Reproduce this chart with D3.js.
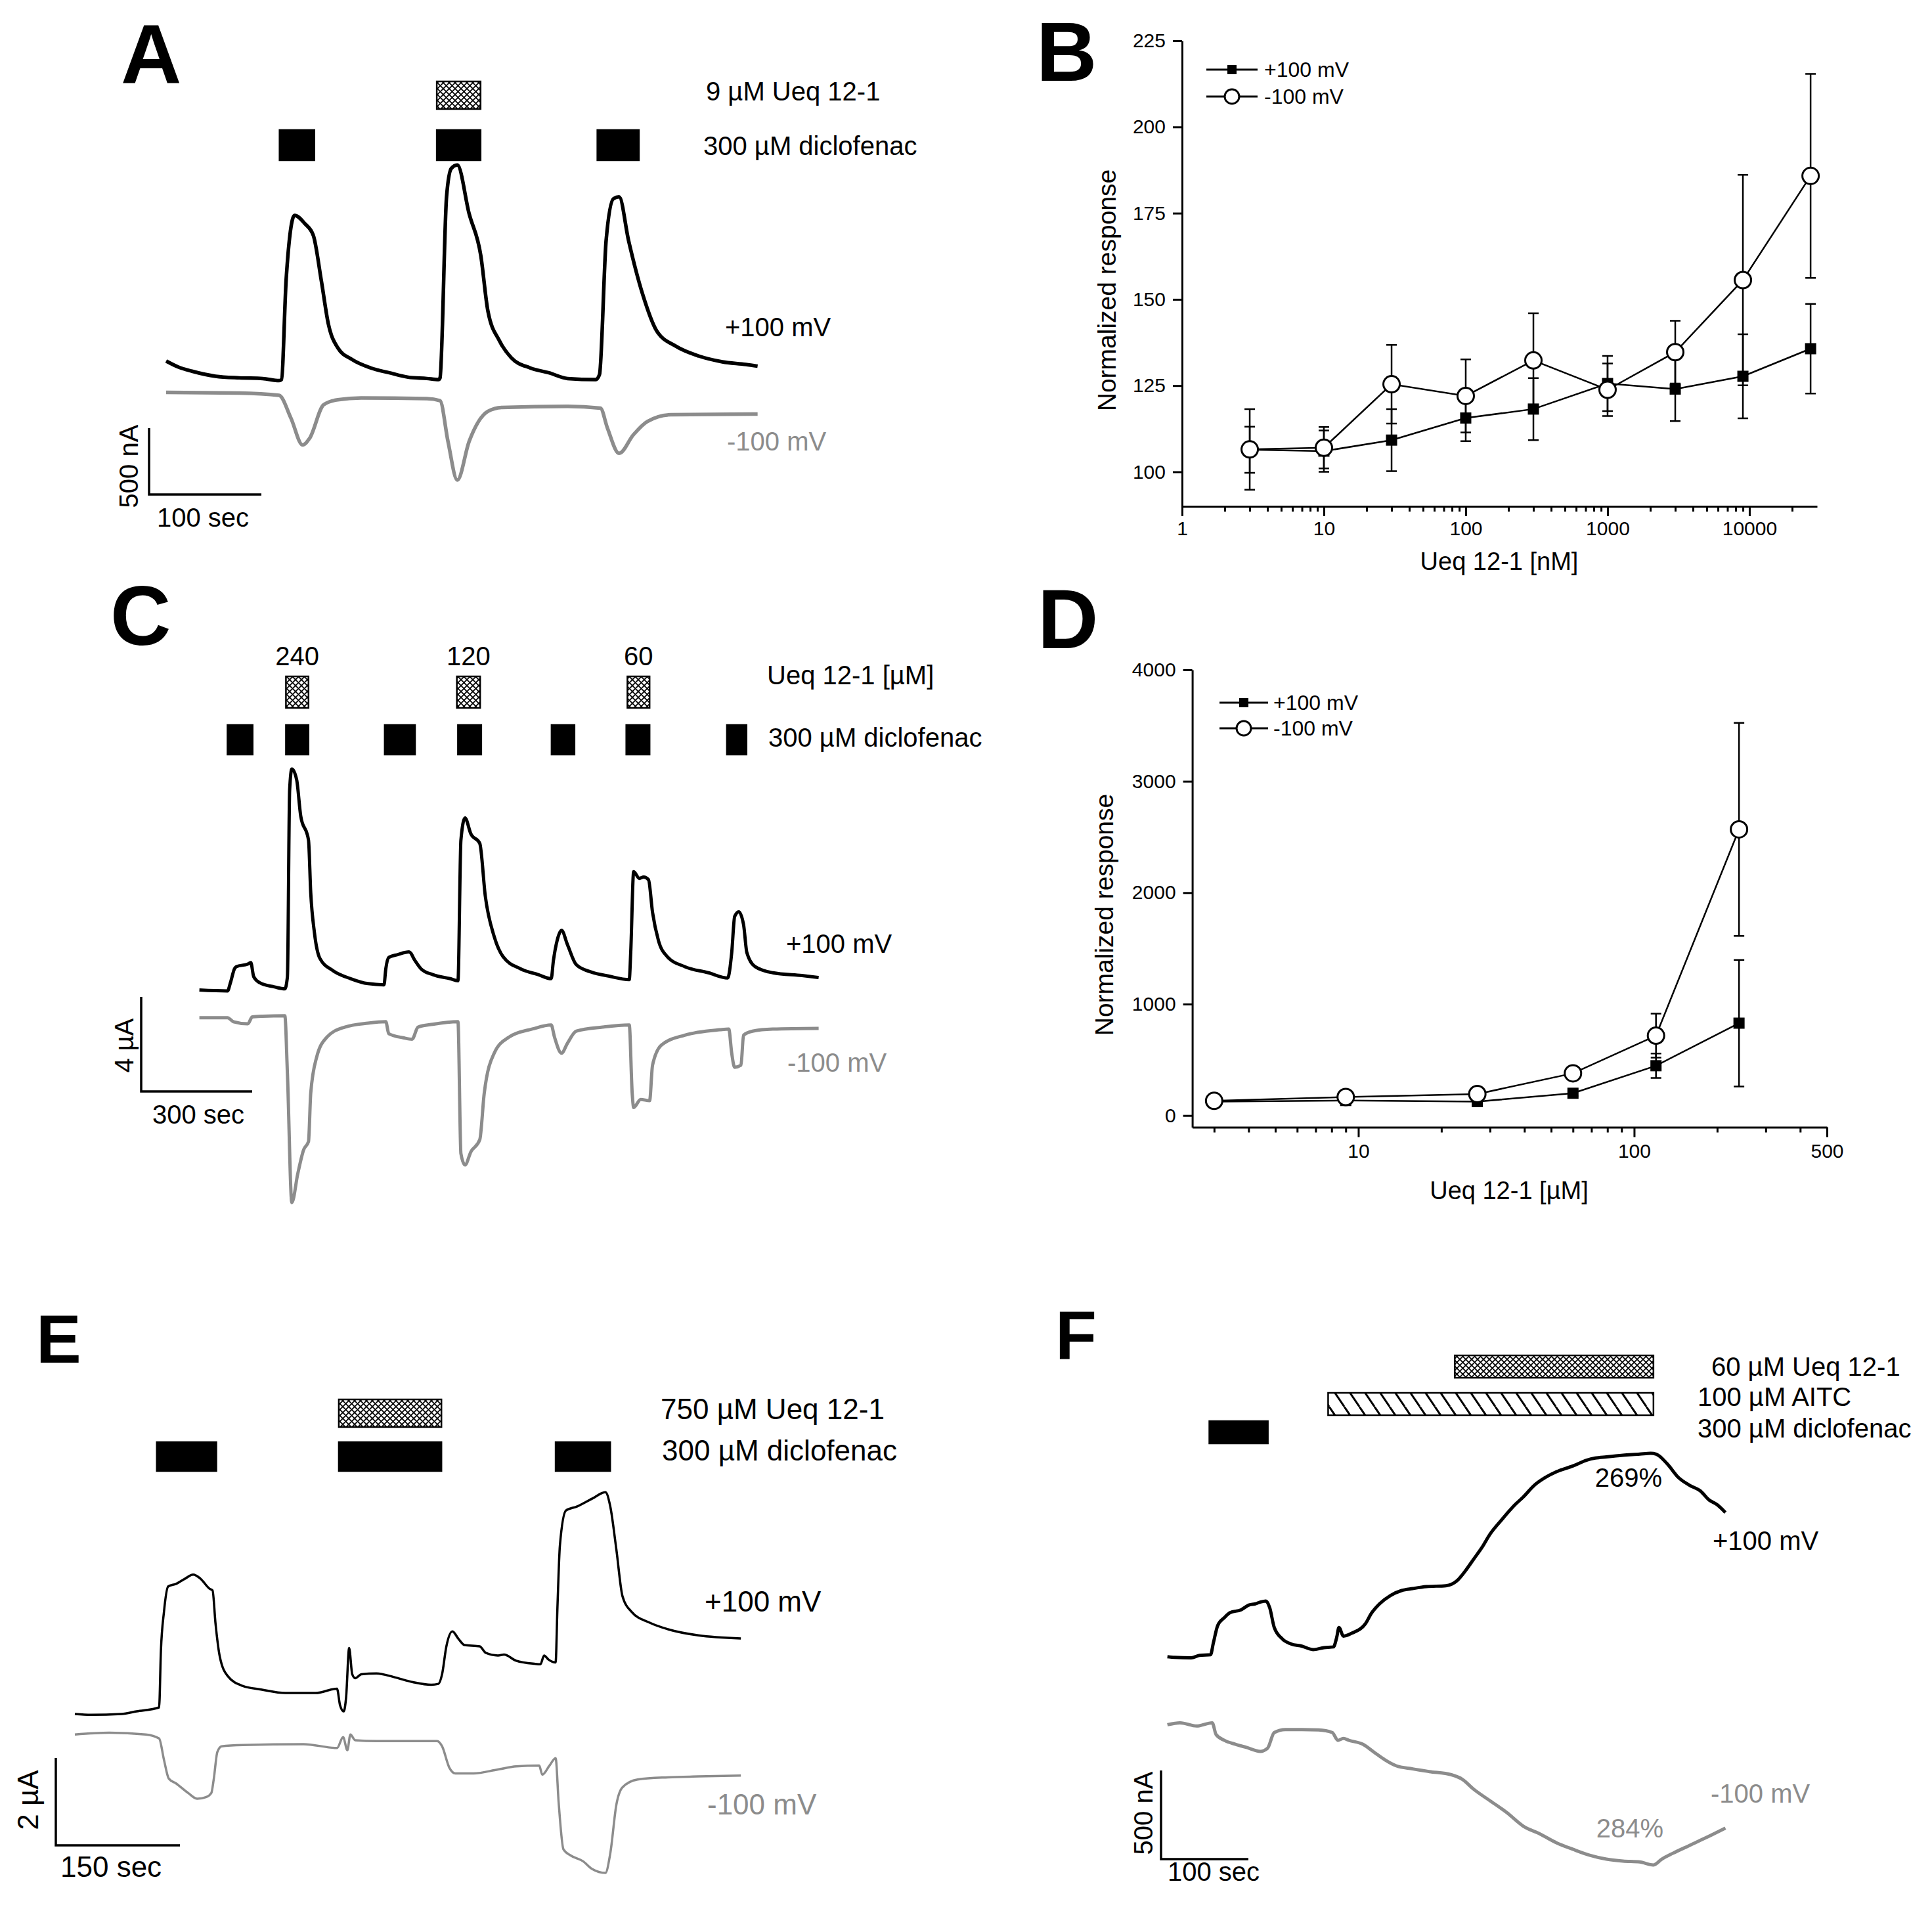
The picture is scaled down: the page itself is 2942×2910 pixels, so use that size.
<!DOCTYPE html>
<html>
<head>
<meta charset="utf-8">
<script src="https://cdn.jsdelivr.net/npm/d3@7"></script>
<style>
  body { margin: 0; background: #fff; }
</style>
</head>
<body>
<div id="fig"></div>
<script>
// ---- data ----
// A: currents in nA vs time in s
const aPlus = [[0,140],[11,94],[23,63],[44,25],[65,13],[86,8],[100.6,-8],[102.7,0],[106.9,758],[114.4,1238],[123.6,1175],[131.1,1086],[138.2,745],[144.5,417],[152.8,240],[165.4,152],[182.1,88],[198.8,51],[215.5,18],[232.2,8],[242.6,0],[243.9,13],[249.7,1377],[253.9,1591],[259.3,1617],[269.8,1251],[280.2,935],[286.5,518],[296.9,291],[307.4,164],[324.1,88],[340.8,51],[357.5,8],[382.6,0],[385.9,38],[391.8,1048],[398.4,1364],[403.4,1377],[411.8,1048],[424.3,644],[436.9,366],[453.6,253],[474.5,177],[495.3,134],[516.2,114],[526.7,101]];
const aMinus = [[0,-96],[65,-101],[100.6,-119],[111.1,-290],[121.5,-493],[127.8,-442],[140.3,-189],[152.8,-152],[173.7,-139],[232.2,-144],[243.9,-159],[251,-467],[259.3,-758],[269.8,-467],[286.5,-240],[299,-210],[357.5,-202],[386.7,-215],[393,-366],[403.4,-556],[416,-417],[428.5,-316],[449.4,-265],[526.7,-260]];
const aDiclo = [[101,132],[241,280],[384,421]];
const aUeq = [[241,280]];

// C: currents in uA vs time in s
const cPlus = [[0,0.04],[76,0],[84,0.35],[95,0.94],[100,1.03],[131,1.14],[139,1.2],[147,0.6],[163,0.35],[203,0.17],[231,0.09],[238,0.6],[244,8.5],[250,9.39],[263,8.93],[274,7.4],[295,6.38],[301,4.17],[311,2.47],[326,1.37],[361,0.86],[409,0.52],[456,0.31],[499,0.26],[504,0.94],[512,1.42],[536,1.54],[567,1.65],[583,1.28],[599,0.94],[631,0.69],[678,0.52],[699,0.43],[707,6.38],[718,7.32],[734,6.64],[758,6.24],[773,4.0],[797,2.3],[821,1.45],[868,0.94],[916,0.69],[951,0.52],[957,1.28],[967,2.13],[979,2.56],[995,1.96],[1019,1.11],[1059,0.8],[1106,0.63],[1162,0.48],[1166,1.62],[1174,5.05],[1189,4.76],[1201,4.82],[1214,4.71],[1225,3.32],[1241,2.13],[1265,1.45],[1312,1.03],[1376,0.77],[1428,0.55],[1439,1.62],[1447,3.15],[1458,3.35],[1471,2.81],[1480,1.62],[1502,1.03],[1550,0.77],[1629,0.65],[1674,0.57]];
const cMinus = [[0,-1.13],[76,-1.13],[92,-1.3],[131,-1.39],[143,-1.1],[171,-1.07],[231,-1.05],[238,-3.48],[250,-8.95],[266,-7.73],[282,-6.71],[295,-6.37],[301,-4.33],[317,-2.8],[345,-1.95],[393,-1.53],[456,-1.36],[504,-1.3],[512,-1.81],[551,-1.98],[575,-2.04],[591,-1.53],[631,-1.41],[699,-1.3],[707,-6.88],[718,-7.36],[734,-6.8],[758,-6.29],[770,-4.33],[797,-2.63],[837,-1.95],[900,-1.61],[951,-1.44],[960,-1.95],[979,-2.63],[995,-2.21],[1019,-1.7],[1090,-1.53],[1162,-1.44],[1170,-4.33],[1174,-4.93],[1193,-4.59],[1217,-4.64],[1225,-3.14],[1249,-2.29],[1312,-1.87],[1407,-1.64],[1431,-1.61],[1439,-2.63],[1447,-3.23],[1464,-3.14],[1471,-1.87],[1495,-1.7],[1550,-1.61],[1674,-1.58]];
const cDiclo = [[76,144],[234,295],[501,583],[699,762],[952,1014],[1154,1217],[1426,1479]];
const cUeq = [[234,295],[696,759],[1157,1217]];
const cUeqConc = ["240", "120", "60"];

// E: currents in uA vs time in s
const ePlus = [[0,0],[19.6,-0.02],[56.3,0],[74.6,0.06],[101.8,0.15],[104,1.45],[107.7,2.34],[112.8,2.92],[122.3,2.98],[133.3,3.1],[142.9,3.19],[151.7,3.1],[162.7,2.87],[166.4,2.83],[170,2.07],[175.2,1.31],[184.7,0.87],[203.1,0.64],[225.1,0.56],[254.4,0.48],[291.1,0.48],[316.8,0.58],[320.5,0.2],[324.9,0.06],[327.8,0.38],[331.5,1.51],[335.2,0.91],[338.8,0.82],[346.2,0.91],[364.5,0.93],[386.5,0.84],[408.5,0.73],[430.6,0.67],[439.4,0.69],[443.8,0.91],[448.9,1.54],[456.3,1.89],[463.6,1.72],[470.9,1.58],[489.3,1.55],[496.6,1.4],[511.3,1.34],[518.6,1.36],[533.3,1.22],[555.3,1.15],[562.7,1.14],[567.1,1.34],[572.2,1.25],[581,1.18],[583.2,2.43],[586.2,3.86],[593.5,4.66],[606.7,4.75],[625.1,4.93],[641.2,5.08],[647.1,4.75],[654.4,3.77],[661.8,2.7],[672.8,2.34],[694.8,2.09],[716.8,1.94],[753.5,1.8],[804.9,1.73]];
const eMinus = [[0,-0.47],[41.6,-0.43],[85.6,-0.47],[101.8,-0.56],[107.7,-1.05],[113.5,-1.48],[122.3,-1.59],[137,-1.81],[148,-1.94],[159,-1.9],[164.9,-1.81],[167.8,-1.5],[172.2,-0.87],[177.4,-0.74],[203.1,-0.71],[276.4,-0.69],[316.8,-0.78],[324.2,-0.53],[329.3,-0.83],[333,-0.47],[338.8,-0.6],[364.5,-0.62],[437.9,-0.62],[443.8,-0.74],[452.6,-1.23],[459.9,-1.36],[481.9,-1.36],[511.3,-1.27],[533.3,-1.2],[561.2,-1.18],[564.9,-1.39],[573.7,-1.18],[581,-1.01],[584.7,-2.03],[590.5,-3.1],[599.3,-3.24],[614,-3.37],[625.1,-3.55],[641.2,-3.64],[647.1,-3.19],[654.4,-2.08],[661.8,-1.68],[680.1,-1.5],[716.8,-1.45],[753.5,-1.43],[804.9,-1.41]];
const eDiclo = [[99,171],[319,443],[581,647]];
const eUeq = [[319,443]];

// F: currents in nA vs time in s
const fPlus = [[0,0],[8.2,-4],[27.2,-7],[36.7,7],[49.4,11],[52.6,77],[57.6,176],[65.2,220],[71.6,248],[84.2,264],[93.8,292],[100.1,297],[106.4,308],[112.8,314],[117.2,275],[122.3,165],[131.8,99],[141.3,72],[154,59],[166.7,40],[179.3,51],[190.1,55],[193.9,110],[196.4,165],[201.5,116],[211,132],[226.9,187],[233.2,242],[242.7,297],[255.4,345],[268.1,373],[280.8,384],[296.6,395],[318.8,400],[331.5,428],[341,483],[350.5,549],[360,615],[369.5,692],[382.2,769],[398,857],[407.5,901],[420.2,967],[432.9,1011],[445.6,1043],[464.6,1076],[480.4,1109],[489.9,1120],[502.6,1127],[521.6,1136],[540.7,1142],[553.3,1147],[559.7,1142],[572.4,1087],[585,1011],[597.7,967],[610.4,934],[619.9,885],[629.4,857],[638.9,813]];
const fMinus = [[0,-384],[14.5,-373],[33.5,-391],[51.3,-373],[55.7,-439],[65.2,-472],[77.9,-494],[90.6,-512],[106.4,-534],[114.7,-516],[122.3,-428],[135,-411],[154,-411],[173,-413],[188.8,-428],[195.2,-472],[201.5,-461],[207.9,-472],[223.7,-494],[236.4,-538],[249.1,-582],[261.7,-615],[280.8,-633],[299.8,-648],[325.1,-666],[337.8,-692],[350.5,-747],[369.5,-813],[388.5,-879],[407.5,-956],[426.6,-1000],[445.6,-1050],[464.6,-1087],[483.6,-1120],[502.6,-1142],[521.6,-1153],[540.7,-1158],[556.5,-1175],[566,-1142],[578.7,-1109],[597.7,-1065],[616.7,-1021],[638.9,-967]];
const fDiclo = [[48,115]];
const fAitc = [[184,556.5]];
const fUeq = [[329,556.5]];

// B: dose response, nM
const bConc = [3, 10, 30, 100, 300, 1000, 3000, 9000, 27000];
const bPlus = [106.4, 106, 109.2, 115.6, 118.2, 125.6, 124, 127.7, 135.7];
const bPlusErr = [6.7, 6, 9, 6.7, 9, 8, 9.3, 12.2, 13];
const bMinus = [106.5, 107, 125.4, 122, 132.3, 123.8, 134.7, 155.6, 185.8];
const bMinusErr = [11.7, 6, 11.4, 10.6, 13.7, 7.6, 9.1, 30.5, 29.6];
const bYTicks = [100, 125, 150, 175, 200, 225];
const bXTicks = [1, 10, 100, 1000, 10000];

// D: dose response, uM
const dConc = [3, 9, 27, 60, 120, 240];
const dPlus = [125, 135, 125, 200, 447, 829];
const dPlusErr = [20, 20, 20, 25, 110, 568];
const dMinus = [132, 166, 193, 379, 717, 2568];
const dMinusErr = [25, 25, 25, 60, 197, 956];
const dYTicks = [0, 1000, 2000, 3000, 4000];
const dXTicks = [10, 100, 500];

const legendNames = ["+100 mV", "-100 mV"];

// ---- drawing ----
const FONT = '"Liberation Sans", Arial, Helvetica, sans-serif';
const GRAY = "#8c8c8c";
const W = 2942, H = 2910;

const svg = d3.select("#fig").append("svg")
  .attr("width", W).attr("height", H)
  .style("font-family", FONT);

svg.append("rect").attr("width", W).attr("height", H).attr("fill", "#fff");

const defs = svg.append("defs");
const cross = defs.append("pattern").attr("id", "cross")
  .attr("patternUnits", "userSpaceOnUse").attr("width", 9).attr("height", 9);
cross.append("rect").attr("width", 9).attr("height", 9).attr("fill", "#fff");
cross.append("path").attr("d", "M0,0L9,9M9,0L0,9")
  .attr("stroke", "#000").attr("stroke-width", 1.7);
const diag = defs.append("pattern").attr("id", "diag")
  .attr("patternUnits", "userSpaceOnUse").attr("width", 23).attr("height", 34);
diag.append("rect").attr("width", 23).attr("height", 34).attr("fill", "#fff");
diag.append("path").attr("d", "M0,0L23,34M-23,0L0,34M23,0L46,34")
  .attr("stroke", "#000").attr("stroke-width", 3);

function addTexts(g, list, size) {
  list.forEach(d => {
    const t = g.append("text").text(d.t)
      .attr("font-size", d.size || size)
      .attr("fill", d.c || "#000")
      .attr("text-anchor", d.anchor || "start");
    if (d.rot) t.attr("transform", `translate(${d.x},${d.y}) rotate(-90)`).attr("text-anchor", "middle");
    else t.attr("x", d.x).attr("y", d.y);
  });
}

function drawTrace(o) {
  const x = d3.scaleLinear().domain([0, o.secBar]).range([o.x0, o.x0 + o.secPx]);
  const y = d3.scaleLinear().domain([0, o.ampBar]).range([o.y0, o.y0 - o.ampPx]);
  const line = d3.line().x(d => x(d[0])).y(d => y(d[1])).curve(d3.curveMonotoneX);
  const g = svg.append("g");

  g.append("path").datum(o.minus).attr("d", line)
    .attr("fill", "none").attr("stroke", GRAY).attr("stroke-width", o.lw)
    .attr("stroke-linejoin", "round");
  g.append("path").datum(o.plus).attr("d", line)
    .attr("fill", "none").attr("stroke", "#000").attr("stroke-width", o.lw)
    .attr("stroke-linejoin", "round");

  o.bars.forEach(b => {
    g.selectAll(null).data(b.spans).join("rect")
      .attr("x", d => x(d[0])).attr("width", d => x(d[1]) - x(d[0]))
      .attr("y", b.y).attr("height", b.h)
      .attr("fill", b.fill).attr("stroke", "#000").attr("stroke-width", 2.5);
  });

  // scale bar
  const [sx, sy] = o.scaleAt;
  const vLen = y(0) - y(o.ampBar), hLen = x(o.secBar) - x(0);
  g.append("path").attr("d", `M${sx},${sy - vLen}V${sy}H${sx + hLen}`)
    .attr("fill", "none").attr("stroke", "#000").attr("stroke-width", 3.5);

  addTexts(g, o.texts, o.fs);
  return {g, x, y};
}

// A
drawTrace({
  plus: aPlus, minus: aMinus, x0: 253, y0: 578, secBar: 100, secPx: 171, ampBar: 500, ampPx: 101,
  lw: 5.5, scaleAt: [227, 753], fs: 40,
  bars: [{spans: aUeq, y: 124, h: 42, fill: "url(#cross)"}, {spans: aDiclo, y: 198, h: 46, fill: "#000"}],
  texts: [
    {t: "9 \u00b5M Ueq 12-1", x: 1075, y: 153},
    {t: "300 \u00b5M diclofenac", x: 1071, y: 236},
    {t: "+100 mV", x: 1104, y: 512},
    {t: "-100 mV", x: 1107, y: 686, c: GRAY},
    {t: "100 sec", x: 239, y: 802},
    {t: "500 nA", x: 210, y: 710, rot: true}
  ]
});

// C
const panelC = drawTrace({
  plus: cPlus, minus: cMinus, x0: 303.6, y0: 1509, secBar: 300, secPx: 169, ampBar: 4, ampPx: 144,
  lw: 5, scaleAt: [215, 1662], fs: 40,
  bars: [{spans: cUeq, y: 1030, h: 48, fill: "url(#cross)"}, {spans: cDiclo, y: 1104, h: 45, fill: "#000"}],
  texts: [
    {t: "Ueq 12-1 [\u00b5M]", x: 1168, y: 1042},
    {t: "300 \u00b5M diclofenac", x: 1170, y: 1137},
    {t: "+100 mV", x: 1197, y: 1451},
    {t: "-100 mV", x: 1199, y: 1632, c: GRAY},
    {t: "300 sec", x: 232, y: 1711},
    {t: "4 \u00b5A", x: 203, y: 1592, rot: true}
  ]
});
panelC.g.selectAll(null).data(cUeq).join("text")
  .attr("x", (d) => (panelC.x(d[0]) + panelC.x(d[1])) / 2)
  .attr("y", 1013).attr("text-anchor", "middle").attr("font-size", 40)
  .text((d, i) => cUeqConc[i]);

// E
drawTrace({
  plus: ePlus, minus: eMinus, x0: 114, y0: 2610, secBar: 150, secPx: 189, ampBar: 2, ampPx: 133,
  lw: 3.5, scaleAt: [85, 2810], fs: 44,
  bars: [{spans: eUeq, y: 2131, h: 42, fill: "url(#cross)"}, {spans: eDiclo, y: 2196, h: 44, fill: "#000"}],
  texts: [
    {t: "750 \u00b5M Ueq 12-1", x: 1006, y: 2161},
    {t: "300 \u00b5M diclofenac", x: 1008, y: 2224},
    {t: "+100 mV", x: 1073, y: 2454},
    {t: "-100 mV", x: 1077, y: 2763, c: GRAY},
    {t: "150 sec", x: 92, y: 2858},
    {t: "2 \u00b5A", x: 58, y: 2741, rot: true}
  ]
});

// F
drawTrace({
  plus: fPlus, minus: fMinus, x0: 1777.7, y0: 2522.7, secBar: 100, secPx: 133, ampBar: 500, ampPx: 135,
  lw: 5, scaleAt: [1768, 2831], fs: 40,
  bars: [
    {spans: fUeq, y: 2064, h: 34, fill: "url(#cross)"},
    {spans: fAitc, y: 2121, h: 34, fill: "url(#diag)"},
    {spans: fDiclo, y: 2164, h: 34, fill: "#000"}
  ],
  texts: [
    {t: "60 \u00b5M Ueq 12-1", x: 2606, y: 2095},
    {t: "100 \u00b5M AITC", x: 2585, y: 2141},
    {t: "300 \u00b5M diclofenac", x: 2585, y: 2189},
    {t: "269%", x: 2480, y: 2264, anchor: "middle"},
    {t: "+100 mV", x: 2608, y: 2360},
    {t: "-100 mV", x: 2605, y: 2745, c: GRAY},
    {t: "284%", x: 2482, y: 2798, c: GRAY, anchor: "middle"},
    {t: "100 sec", x: 1778, y: 2864},
    {t: "500 nA", x: 1755, y: 2761, rot: true}
  ]
});

// dose-response panels
function doseChart(o) {
  const x = d3.scaleLog().domain(o.xDomain).range([o.left, o.right]);
  const y = d3.scaleLinear().domain(o.yDomain).range([o.bottom, o.top]);
  const g = svg.append("g");

  g.append("g").attr("transform", `translate(${o.left},0)`)
    .call(d3.axisLeft(y).tickValues(o.yTicks).tickFormat(d3.format("d"))
      .tickSize(14).tickSizeOuter(0).tickPadding(11));
  g.append("g").attr("transform", `translate(0,${o.bottom})`)
    .call(d3.axisBottom(x).tickValues(o.xTicks).tickFormat(d3.format("d"))
      .tickSize(15).tickSizeOuter(0).tickPadding(o.xPad));
  const minor = x.ticks().filter(v => !o.xTicks.includes(v) && v > o.xDomain[0] && v < o.xDomain[1]);
  g.append("g").attr("transform", `translate(0,${o.bottom})`)
    .call(d3.axisBottom(x).tickValues(minor).tickFormat("").tickSize(8).tickSizeOuter(0))
    .call(s => s.select(".domain").remove());
  g.selectAll(".domain, .tick line").attr("stroke", "#000").attr("stroke-width", 3);
  g.selectAll(".tick text").attr("font-size", 30).attr("font-family", FONT).attr("fill", "#000");

  const series = [
    {vals: o.plus, errs: o.plusErr},
    {vals: o.minus, errs: o.minusErr}
  ].map(s => o.conc.map((c, i) => ({c, v: s.vals[i], e: s.errs[i]})));

  const line = d3.line().x(d => x(d.c)).y(d => y(d.v));
  series.forEach(pts => {
    g.append("path").datum(pts).attr("d", line)
      .attr("fill", "none").attr("stroke", "#000").attr("stroke-width", 2.5);
    g.selectAll(null).data(pts).join("path")
      .attr("d", d => {
        const cx = x(d.c), lo = y(d.v - d.e), hi = y(d.v + d.e);
        return `M${cx},${lo}V${hi}M${cx - 8},${lo}h16M${cx - 8},${hi}h16`;
      })
      .attr("fill", "none").attr("stroke", "#000").attr("stroke-width", 2.5);
  });
  g.selectAll(null).data(series[0]).join("rect")
    .attr("x", d => x(d.c) - 8.5).attr("y", d => y(d.v) - 8.5)
    .attr("width", 17).attr("height", 17).attr("fill", "#000");
  g.selectAll(null).data(series[1]).join("circle")
    .attr("cx", d => x(d.c)).attr("cy", d => y(d.v)).attr("r", 12.5)
    .attr("fill", "#fff").attr("stroke", "#000").attr("stroke-width", 3);

  // legend
  const lg = g.append("g");
  legendNames.forEach((name, i) => {
    const ly = o.legend.y[i], lx0 = o.legend.x0, lx1 = o.legend.x1, mx = (lx0 + lx1) / 2;
    lg.append("line").attr("x1", lx0).attr("x2", lx1).attr("y1", ly).attr("y2", ly)
      .attr("stroke", "#000").attr("stroke-width", 3);
    if (i === 0) lg.append("rect").attr("x", mx - 7).attr("y", ly - 7).attr("width", 14).attr("height", 14).attr("fill", "#000");
    else lg.append("circle").attr("cx", mx).attr("cy", ly).attr("r", 11)
      .attr("fill", "#fff").attr("stroke", "#000").attr("stroke-width", 3);
    lg.append("text").attr("x", o.legend.tx).attr("y", ly + 11).attr("font-size", 32).text(name);
  });

  // axis titles
  g.append("text").attr("transform", `translate(${o.yTitle[0]},${o.yTitle[1]}) rotate(-90)`)
    .attr("text-anchor", "middle").attr("font-size", 39).text("Normalized response");
  g.append("text").attr("x", o.xTitle[0]).attr("y", o.xTitle[1])
    .attr("text-anchor", "middle").attr("font-size", 38).text(o.xLabel);
}

doseChart({
  conc: bConc, plus: bPlus, plusErr: bPlusErr, minus: bMinus, minusErr: bMinusErr,
  xDomain: [1, 30000], yDomain: [90, 225], left: 1800, right: 2767, top: 62, bottom: 771,
  yTicks: bYTicks, xTicks: bXTicks, xPad: 8,
  legend: {x0: 1837, x1: 1915, tx: 1925, y: [106, 147]},
  yTitle: [1699, 442], xTitle: [2283, 868], xLabel: "Ueq 12-1 [nM]"
});

doseChart({
  conc: dConc, plus: dPlus, plusErr: dPlusErr, minus: dMinus, minusErr: dMinusErr,
  xDomain: [2.5, 500], yDomain: [-105, 4000], left: 1815.6, right: 2782, top: 1020, bottom: 1716.5,
  yTicks: dYTicks, xTicks: dXTicks, xPad: 10,
  legend: {x0: 1857, x1: 1931, tx: 1939, y: [1070, 1109]},
  yTitle: [1695, 1393], xTitle: [2298, 1826], xLabel: "Ueq 12-1 [\u00b5M]"
});

// panel letters
const letters = [
  {t: "A", x: 184, y: 127, s: 128}, {t: "B", x: 1578, y: 123, s: 128},
  {t: "C", x: 168, y: 982, s: 128}, {t: "D", x: 1580, y: 987, s: 128},
  {t: "E", x: 55, y: 2075, s: 103}, {t: "F", x: 1607, y: 2069, s: 103}
];
svg.selectAll(null).data(letters).join("text")
  .attr("x", d => d.x).attr("y", d => d.y).attr("font-size", d => d.s)
  .attr("font-weight", "bold").text(d => d.t);
</script>
</body>
</html>
